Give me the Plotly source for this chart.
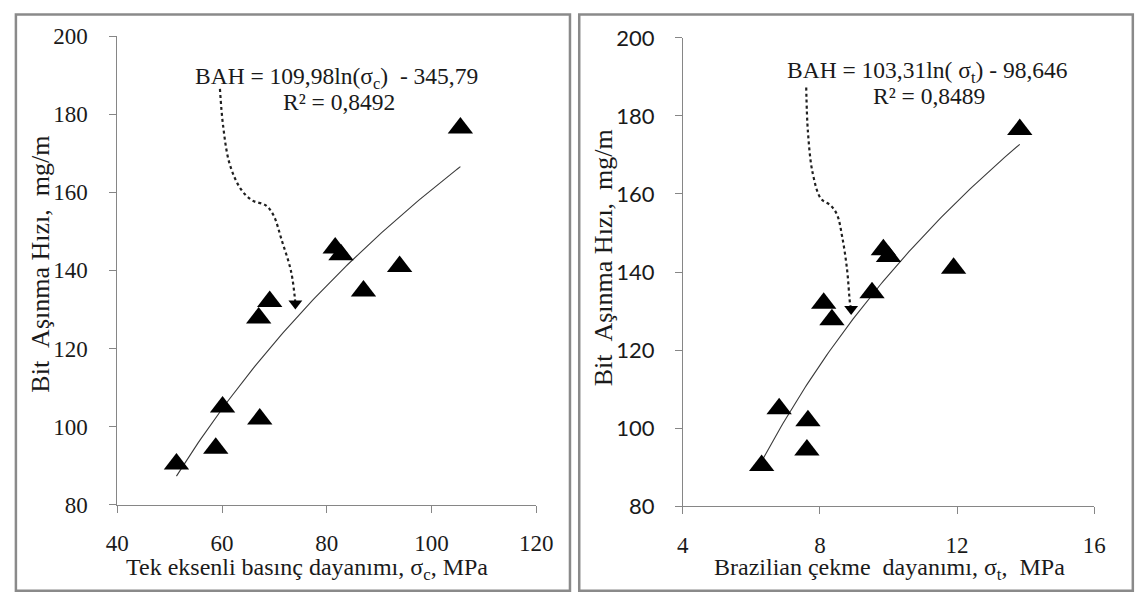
import numpy as np
import plotly.graph_objects as go

W, H = 1143, 610

# Bit wear rate of the rock samples (mg/m), shared by both panels
bah = [90.4, 94.4, 105.0, 101.9, 127.8, 132.0, 145.7, 144.0, 141.0, 134.7, 176.5]
# Uniaxial compressive strength, sigma_c (MPa)
ucs = [51.3, 58.8, 60.1, 67.2, 67.0, 69.1, 81.6, 82.7, 93.9, 87.0, 105.5]
# Brazilian tensile strength, sigma_t (MPa)
bts = [6.30, 7.62, 6.81, 7.65, 8.35, 8.11, 9.85, 10.0, 11.9, 9.52, 13.83]

# Logarithmic trend lines BAH = a*ln(x) + b
fit_ucs = (109.98, -345.79)
fit_bts = (103.31, -98.646)

# Dotted call-out curves running from each equation label to its trend line
callout_ucs_x = [59.6, 60.2, 61.45, 63.6, 65.8, 68.3, 69.8, 71.4, 73.2, 74.0]
callout_ucs_y = [186.5, 177.1, 167.3, 160.8, 157.9, 156.7, 154.2, 147.7, 139.6, 131.5]
callout_bts_x = [7.60, 7.65, 7.79, 8.03, 8.31, 8.50, 8.65, 8.79, 8.88, 8.91]
callout_bts_y = [187.3, 175.9, 165.3, 158.8, 157.1, 154.7, 149.0, 140.8, 131.8, 130.5]

SERIF = "Liberation Serif"
SANS = "Lato"
AXIS_GREY = "#868686"
TEXT = "#1a1a1a"


def px_x(p):
    return p / W


def px_y(p):
    return 1 - p / H


fig = go.Figure()


def add_panel(xs, fit, cx, cy, xa, ya):
    a, b = fit
    xt = np.linspace(min(xs), max(xs), 120)
    fig.add_trace(go.Scatter(
        x=xt, y=a * np.log(xt) + b, mode="lines",
        line=dict(color="#3a3a3a", width=1.1),
        xaxis=xa, yaxis=ya, hoverinfo="skip", showlegend=False))
    fig.add_trace(go.Scatter(
        x=xs, y=bah, mode="markers",
        marker=dict(symbol="triangle-up", size=22, color="black"),
        xaxis=xa, yaxis=ya, showlegend=False))
    fig.add_trace(go.Scatter(
        x=cx, y=cy, mode="lines",
        line=dict(color="#202020", width=2.2, dash="dot", shape="spline"),
        xaxis=xa, yaxis=ya, hoverinfo="skip", showlegend=False))
    fig.add_trace(go.Scatter(
        x=[cx[-1]], y=[cy[-1]], mode="markers",
        marker=dict(symbol="triangle-down", size=12, color="black"),
        xaxis=xa, yaxis=ya, hoverinfo="skip", showlegend=False))


add_panel(ucs, fit_ucs, callout_ucs_x, callout_ucs_y, "x", "y")
add_panel(bts, fit_bts, callout_bts_x, callout_bts_y, "x2", "y2")

axis_common = dict(
    showline=True, linecolor=AXIS_GREY, linewidth=1,
    ticks="outside", ticklen=7, tickcolor=AXIS_GREY, tickwidth=1,
    showgrid=False, zeroline=False, mirror=False,
    tickfont=dict(family=SERIF, size=23, color=TEXT),
)

fig.update_layout(
    width=W, height=H,
    margin=dict(l=0, r=0, t=0, b=0),
    paper_bgcolor="white", plot_bgcolor="white",
    showlegend=False,
    font=dict(family=SERIF, color=TEXT),
    xaxis=dict(axis_common, domain=[px_x(108), px_x(538)], range=[40, 120],
               dtick=20, tick0=40, anchor="y", ticklabelstandoff=11),
    yaxis=dict(axis_common, domain=[px_y(513.3), px_y(23.2)], range=[80, 200],
               dtick=20, tick0=80, anchor="x", ticklabelstandoff=17),
    xaxis2=dict(axis_common, domain=[px_x(688.3), px_x(1110.3)], range=[4, 16],
                dtick=4, tick0=4, anchor="y2", ticklabelstandoff=11),
    yaxis2=dict(axis_common, domain=[px_y(515), px_y(25)], range=[80, 200],
                dtick=20, tick0=80, anchor="x2", ticklabelstandoff=16,
                tickfont=dict(family=SANS, size=22, color=TEXT)),
)

NB = "\u00a0"
labels = [
    (29, 262, f"Bit{NB}{NB}Aşınma Hızı,{NB}{NB}mg/m", 26, -90),
    (607, 255, f"Bit{NB}{NB}Aşınma Hızı,{NB}{NB}mg/m", 26, -90),
    (303, 581, "Tek eksenli basınç dayanımı, σ<sub>c</sub>, MPa", 24, 0),
    (900, 581, f"Brazilian çekme{NB}{NB}dayanımı, σ<sub>t</sub>,{NB}{NB}MPa", 24, 0),
    (333, 67, f"BAH = 109,98ln(σ<sub>c</sub>){NB}{NB}- 345,79", 23.5, 0),
    (336, 92, "R² = 0,8492", 23.5, 0),
    (939, 61, f"BAH = 103,31ln({NB}σ<sub>t</sub>) - 98,646", 23.5, 0),
    (941, 86, "R² = 0,8489", 23.5, 0),
]
for x, y, t, s, ang in labels:
    fig.add_annotation(
        x=px_x(x), y=px_y(y), xref="paper", yref="paper", text=t,
        showarrow=False, textangle=ang, xanchor="center", yanchor="middle",
        font=dict(family=SERIF, size=s, color=TEXT))

# Chart frames around each panel
for x0, x1 in [(4, 572.5), (582, 1150)]:
    fig.add_shape(type="rect", xref="paper", yref="paper",
                  x0=px_x(x0), x1=px_x(x1), y0=px_y(603.5), y1=px_y(0.5),
                  line=dict(color="#8a8a8a", width=2.5), fillcolor="rgba(0,0,0,0)",
                  layer="below")

fig.write_html("out.html")
